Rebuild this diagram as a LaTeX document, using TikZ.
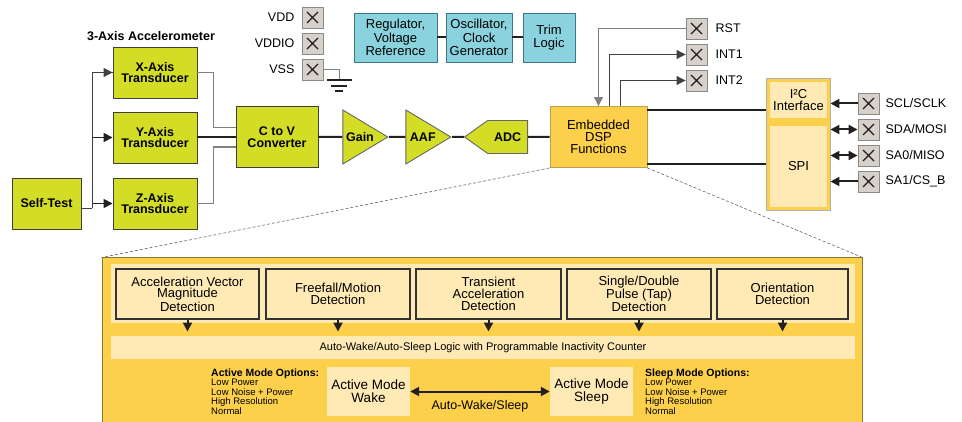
\documentclass[tikz,border=0pt]{standalone}
\usepackage{fontspec}
\setmainfont{Liberation Sans}
\usetikzlibrary{positioning,shapes.geometric,shapes.symbols,arrows.meta}

\definecolor{accgreen}{RGB}{212,221,38}
\definecolor{regcyan}{RGB}{138,211,222}
\definecolor{cyanedge}{RGB}{60,120,135}
\definecolor{pingray}{RGB}{214,209,203}
\definecolor{pinedge}{RGB}{140,137,133}
\definecolor{dspyellow}{RGB}{253,208,75}
\definecolor{dspedge}{RGB}{185,160,80}
\definecolor{paleyellow}{RGB}{255,234,181}
\definecolor{paneledge}{RGB}{140,120,50}
\definecolor{linedark}{RGB}{35,31,32}

\begin{document}
\begin{tikzpicture}[
        x=1pt, y=-1pt,
        >={Triangle[length=9pt,width=9pt]},
        block/.style={rectangle, draw=black!75, line width=0.9pt, fill=accgreen, align=center, inner sep=0pt, font=\fontsize{12.5}{11.7}\selectfont\bfseries},
        transducer/.style={block, minimum width=84pt, minimum height=51pt},
        amp/.style={isosceles triangle, isosceles triangle stretches, shape border rotate=0, draw=black!60, line width=0.9pt, fill=accgreen, inner sep=0pt, minimum width=54pt, minimum height=45pt, font=\fontsize{12.5}{12}\selectfont\bfseries},
        support/.style={rectangle, draw=cyanedge, line width=0.9pt, fill=regcyan, align=center, inner sep=0pt, minimum height=49pt, font=\fontsize{13}{13.3}\selectfont},
        pinbox/.style={rectangle, draw=pinedge, fill=pingray, line width=0.9pt, minimum size=21pt, inner sep=0pt,
            path picture={\draw[line width=1.4pt, draw=linedark]
                ([shift={(-5.5pt,-5.5pt)}]path picture bounding box.center) -- ([shift={(5.5pt,5.5pt)}]path picture bounding box.center)
                ([shift={(-5.5pt,5.5pt)}]path picture bounding box.center) -- ([shift={(5.5pt,-5.5pt)}]path picture bounding box.center);}},
        pinlabel/.style={inner sep=0pt, font=\fontsize{12.5}{13}\selectfont},
        detect/.style={rectangle, draw=black!80, line width=1.1pt, fill=paleyellow, align=center, inner sep=0pt, minimum height=50pt, font=\fontsize{13}{11.7}\selectfont},
        mode/.style={rectangle, fill=paleyellow, align=center, inner sep=0pt, minimum width=83pt, minimum height=49pt, font=\fontsize{13.5}{13.3}\selectfont},
        optitle/.style={inner sep=0pt, font=\fontsize{10.5}{11}\selectfont\bfseries},
        optlist/.style={inner sep=0pt, align=left, font=\fontsize{9.5}{9.5}\selectfont},
        mainline/.style={line width=2pt, draw=linedark},
        grayline/.style={line width=1.2pt, draw=black!50},
        thinline/.style={line width=1pt, draw=black!75},
        zoomline/.style={line width=0.6pt, draw=black!60, dash pattern=on 3pt off 2pt}
    ]
        \useasboundingbox (0,0) rectangle (962,422);

        % Accelerometer front end
        \node[font=\fontsize{12.5}{13}\selectfont\bfseries] (acctitle) at (151,36) {3-Axis Accelerometer};
        \node[transducer] (xaxis) at (155,72.5) {X-Axis\\Transducer};
        \node[transducer] (yaxis) at (155,137.5) {Y-Axis\\Transducer};
        \node[transducer] (zaxis) at (155,203.5) {Z-Axis\\Transducer};
        \node[block, minimum width=69pt, minimum height=51pt] (selftest) at (46.5,203.5) {Self-Test};
        \node[block, minimum width=82pt, minimum height=61pt] (ctov) at (277,137) {C to V\\Converter};

        % Signal chain
        \node[amp, anchor=apex] (gain) at (389,137) {Gain};
        \node[amp, anchor=apex] (aaf) at (452,137) {AAF};
        \node[signal, signal to=west, signal pointer angle=71, draw=black!60, line width=0.9pt, fill=accgreen, inner sep=0pt, minimum width=63pt, minimum height=33pt, font=\fontsize{12.5}{12}\selectfont\bfseries, anchor=east] (adc) at (528,137) {ADC};
        \node[rectangle, draw=dspedge, line width=0.9pt, fill=dspyellow, align=center, inner sep=0pt, minimum width=97pt, minimum height=61pt, font=\fontsize{13}{12}\selectfont] (dsp) at (598.5,137) {Embedded\\DSP\\Functions};

        % Support blocks
        \node[support, minimum width=83pt] (reg) at (395.5,37.5) {Regulator,\\Voltage\\Reference};
        \node[support, minimum width=66pt] (osc) at (479,37.5) {Oscillator,\\Clock\\Generator};
        \node[support, minimum width=52pt] (trim) at (549,37.5) {Trim\\Logic};

        % Power pins
        \node[pinbox] (vdd) at (312.5,17.5) {};
        \node[pinbox] (vddio) at (312.5,43.5) {};
        \node[pinbox] (vss) at (312.5,69.5) {};
        \node[pinlabel, left=7pt of vdd] (vddlabel) {VDD};
        \node[pinlabel, left=7pt of vddio] (vddiolabel) {VDDIO};
        \node[pinlabel, left=7pt of vss] (vsslabel) {VSS};

        % Reset and interrupt pins
        \node[pinbox] (rst) at (696.5,28.5) {};
        \node[pinbox] (int1) at (696.5,54.5) {};
        \node[pinbox] (int2) at (696.5,80.5) {};
        \node[pinlabel, right=8pt of rst] (rstlabel) {RST};
        \node[pinlabel, right=8pt of int1] (int1label) {INT1};
        \node[pinlabel, right=8pt of int2] (int2label) {INT2};

        % Serial interface
        \node[rectangle, draw=black!30, line width=0.9pt, fill=dspyellow, minimum width=64pt, minimum height=132pt] (serial) at (798,144) {};
        \node[rectangle, fill=paleyellow, align=center, inner sep=0pt, minimum width=57pt, minimum height=36pt, font=\fontsize{13}{12}\selectfont] (i2c) at (798.5,100) {I²C\\Interface};
        \node[rectangle, fill=paleyellow, inner sep=0pt, minimum width=57pt, minimum height=81pt, font=\fontsize{13}{12}\selectfont] (spi) at (798.5,166.5) {SPI};
        \node[pinbox] (scl) at (868.5,103.5) {};
        \node[pinbox] (sda) at (868.5,129.5) {};
        \node[pinbox] (sa0) at (868.5,155.5) {};
        \node[pinbox] (sa1) at (868.5,181.5) {};
        \node[pinlabel, right=6pt of scl] (scllabel) {SCL/SCLK};
        \node[pinlabel, right=6pt of sda] (sdalabel) {SDA/MOSI};
        \node[pinlabel, right=6pt of sa0] (sa0label) {SA0/MISO};
        \node[pinlabel, right=6pt of sa1] (sa1label) {SA1/CS\_B};

        % Self-test and transducer connections
        \draw[thinline] ([yshift=-5pt]selftest.east) -- ++(11,0) coordinate (stsplit);
        \draw[thinline] (stsplit) |- (xaxis.west);
        \draw[mainline, line width=1.6pt, ->] (stsplit |- yaxis.west) -- (yaxis.west);
        \draw[mainline, line width=1.6pt, ->] (stsplit |- zaxis.west) -- (zaxis.west);
        \draw[thinline, ->] (stsplit |- xaxis.west) -- (xaxis.west);
        \draw[thinline] (stsplit) -- (stsplit |- zaxis.west);
        \draw[grayline] (xaxis.east) -- ++(16,0) |- ([yshift=9.5pt]ctov.west);
        \draw[grayline] (zaxis.east) -- ++(16,0) |- ([yshift=-10pt]ctov.west);
        \draw[mainline] (yaxis.east) -- (yaxis.east -| ctov.west);

        % Signal chain connections
        \draw[mainline] (ctov) -- (gain);
        \draw[mainline] (gain.apex) -- (aaf);
        \draw[mainline] (aaf.apex) -- (adc);
        \draw[mainline] (adc) -- (dsp);
        \draw[mainline] (reg) -- (osc);
        \draw[mainline] (osc) -- (trim);

        % Ground on VSS
        \draw[grayline] (vss.east) -- ++(16,0) coordinate (gnd) -- ++(0,10.5);
        \draw[mainline, line width=1.6pt] ([xshift=-12pt,yshift=-10.5pt]gnd) -- ++(25,0);
        \draw[mainline, line width=1.6pt] ([xshift=-8pt,yshift=-16.5pt]gnd) -- ++(16,0);
        \draw[mainline, line width=1.6pt] ([xshift=-4pt,yshift=-21.5pt]gnd) -- ++(8,0);

        % Reset, interrupts, serial lines
        \draw[grayline, ->] (rst.west) -| (dsp.north);
        \draw[thinline, ->] ([xshift=10.5pt]dsp.north) |- (int1.west);
        \draw[thinline, ->] ([xshift=21.5pt]dsp.north) |- (int2.west);
        \draw[mainline] ([yshift=-4pt]dsp.north east) -- ([yshift=-4pt]dsp.north east -| serial.west);
        \draw[mainline] ([yshift=4pt]dsp.south east) -- ([yshift=4pt]dsp.south east -| serial.west);
        \draw[mainline, ->] (scl.west) -- (scl.west -| serial.east);
        \draw[mainline, <->] (sda.west) -- (sda.west -| serial.east);
        \draw[mainline, <->] (sa0.west) -- (sa0.west -| serial.east);
        \draw[mainline, ->] (sa1.west) -- (sa1.west -| serial.east);

        % Embedded DSP detail panel
        \node[rectangle, draw=paneledge, line width=1pt, fill=dspyellow, minimum width=760pt, minimum height=166pt] (panel) at (482,341) {};
        \draw[zoomline] (dsp.south west) -- (panel.north west);
        \draw[zoomline] (dsp.south east) -- (panel.north east);
        \node[rectangle, fill=paleyellow, minimum width=744pt, minimum height=59pt] (detband) at (483,293.5) {};
        \node[detect, minimum width=143pt] (avm) at (187.5,294) {Acceleration Vector\\Magnitude\\Detection};
        \node[detect, minimum width=144pt] (ffm) at (338,294) {Freefall/Motion\\Detection};
        \node[detect, minimum width=145pt] (trans) at (488.5,294) {Transient\\Acceleration\\Detection};
        \node[detect, minimum width=144pt] (tap) at (639,294) {Single/Double\\Pulse (Tap)\\Detection};
        \node[detect, minimum width=131pt] (orient) at (782.5,294) {Orientation\\Detection};
        \node[rectangle, fill=paleyellow, minimum width=744pt, minimum height=23pt, font=\fontsize{11}{12}\selectfont] (awband) at (483,347.5) {Auto-Wake/Auto-Sleep Logic with Programmable Inactivity Counter};
        \foreach \det in {avm, ffm, trans, tap, orient}
            \draw[mainline, ->] (\det.south) -- ++(0,12);

        % Wake and sleep modes
        \node[mode] (wake) at (368.5,391.5) {Active Mode\\Wake};
        \node[mode] (sleep) at (591.5,391.5) {Active Mode\\Sleep};
        \draw[mainline, <->] (wake) -- (sleep);
        \node[font=\fontsize{12.5}{13}\selectfont] (awlabel) at (480,406) {Auto-Wake/Sleep};
        \node[optitle, anchor=base west] (actopt) at (211,376) {Active Mode Options:};
        \node[optlist, anchor=north west] (actlist) at (211,379) {Low Power\\Low Noise + Power\\High Resolution\\Normal};
        \node[optitle, anchor=base west] (slpopt) at (645,376) {Sleep Mode Options:};
        \node[optlist, anchor=north west] (slplist) at (645,379) {Low Power\\Low Noise + Power\\High Resolution\\Normal};

    \end{tikzpicture}
\end{document}
